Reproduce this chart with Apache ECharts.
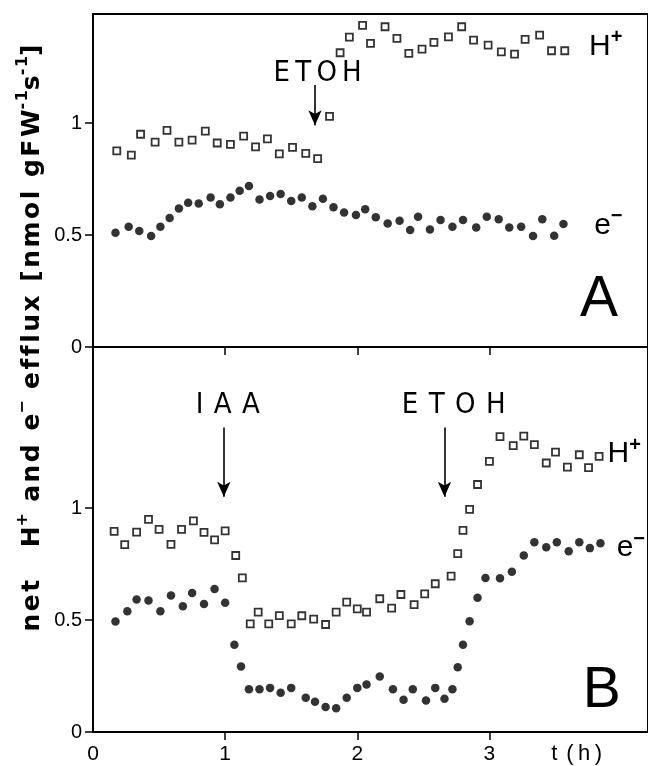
<!DOCTYPE html>
<html>
<head>
<meta charset="utf-8">
<script src="https://cdn.jsdelivr.net/npm/echarts@6/dist/echarts.min.js"></script>
<style>
  html, body { margin: 0; padding: 0; background: #fff; }
  #chart { width: 648px; height: 766px; }
</style>
</head>
<body>
<div id="chart"></div>
<script>
// Panel A: H+ and e- efflux, ethanol added at ~1.7 h
const aProtonT = [0.18,0.29,0.36,0.47,0.56,0.65,0.75,0.85,0.94,1.04,1.14,1.23,1.32,1.41,1.51,1.61,1.70,1.79,1.87,1.94,2.04,2.10,2.21,2.30,2.39,2.49,2.58,2.69,2.79,2.88,2.99,3.09,3.19,3.27,3.38,3.47,3.57];
const aProtonV = [0.876,0.857,0.95,0.915,0.967,0.915,0.924,0.964,0.911,0.905,0.942,0.894,0.929,0.862,0.891,0.865,0.841,1.03,1.314,1.384,1.436,1.356,1.43,1.378,1.311,1.33,1.36,1.385,1.43,1.37,1.348,1.318,1.308,1.374,1.393,1.323,1.323];
const aElectronT = [0.17,0.27,0.35,0.44,0.51,0.58,0.65,0.72,0.80,0.89,0.96,1.04,1.11,1.18,1.26,1.34,1.42,1.50,1.58,1.66,1.74,1.82,1.90,1.99,2.06,2.14,2.23,2.32,2.40,2.46,2.55,2.63,2.72,2.80,2.90,2.98,3.07,3.15,3.24,3.33,3.40,3.49,3.56];
const aElectronV = [0.51,0.537,0.518,0.496,0.537,0.576,0.619,0.644,0.641,0.668,0.638,0.668,0.698,0.719,0.659,0.674,0.683,0.652,0.668,0.629,0.662,0.624,0.601,0.589,0.615,0.579,0.552,0.564,0.522,0.582,0.525,0.567,0.537,0.567,0.534,0.582,0.570,0.534,0.537,0.496,0.570,0.497,0.549];

// Panel B: IAA added at 1 h, ethanol at ~2.65 h
const bProtonT = [0.16,0.24,0.33,0.42,0.50,0.59,0.67,0.76,0.84,0.92,1.0,1.08,1.13,1.19,1.25,1.33,1.41,1.50,1.58,1.67,1.76,1.84,1.92,2.00,2.07,2.17,2.26,2.33,2.43,2.51,2.59,2.71,2.76,2.80,2.85,2.91,3.00,3.08,3.18,3.26,3.34,3.43,3.50,3.59,3.68,3.75,3.83];
const bProtonV = [0.896,0.837,0.892,0.949,0.905,0.838,0.905,0.943,0.891,0.858,0.898,0.788,0.688,0.483,0.535,0.483,0.520,0.483,0.519,0.504,0.480,0.535,0.58,0.55,0.535,0.595,0.553,0.614,0.569,0.617,0.662,0.696,0.796,0.90,0.994,1.105,1.208,1.319,1.279,1.321,1.283,1.201,1.25,1.183,1.238,1.18,1.231];
const bElectronT = [0.17,0.26,0.33,0.42,0.51,0.59,0.68,0.75,0.84,0.92,1.0,1.07,1.12,1.18,1.26,1.34,1.42,1.50,1.61,1.68,1.76,1.84,1.92,2.00,2.07,2.17,2.27,2.35,2.42,2.52,2.59,2.66,2.72,2.76,2.80,2.85,2.91,2.97,3.08,3.17,3.26,3.34,3.43,3.51,3.60,3.68,3.76,3.84];
const bElectronV = [0.493,0.539,0.592,0.587,0.539,0.609,0.562,0.621,0.572,0.638,0.577,0.390,0.292,0.191,0.191,0.197,0.175,0.197,0.153,0.135,0.112,0.106,0.153,0.197,0.212,0.248,0.191,0.144,0.191,0.141,0.197,0.148,0.191,0.289,0.39,0.494,0.599,0.688,0.687,0.716,0.788,0.847,0.825,0.847,0.807,0.847,0.821,0.843];

const xTickLabels = [0, 1, 2, 3];
const yTickLabels = [0, 0.5, 1];

// treatment arrows: [time, upper value, lower value]
const arrowA = [[1.68, 1.17, 0.99]];
const arrowB = [[0.99, 1.36, 1.05], [2.66, 1.36, 1.05]];

const zip = (t, v) => t.map((x, i) => [x, v[i]]);

const FONT = '"Liberation Sans", Arial, sans-serif';
const NARROW = '"Liberation Sans Narrow", "DejaVu Sans Condensed", "Liberation Sans", sans-serif';
const TITLE_FONT = '"DejaVu Sans", sans-serif';

// spread letters apart with hair spaces
const spaced = s => s.split('').join('\u200A');

function xAxisFor(grid, labels) {
  return {
    type: 'value', gridIndex: grid, min: 0, max: 4.2, interval: 1,
    axisLine: { show: true, lineStyle: { color: '#000', width: 2 } },
    axisTick: { show: true, inside: false, length: 8, lineStyle: { color: '#000', width: 1.5 },
                customValues: [1, 2, 3] },
    axisLabel: { show: labels, customValues: xTickLabels, color: '#000', fontSize: 21,
                 fontFamily: FONT, margin: 12 },
    splitLine: { show: false }
  };
}
function yAxisFor(grid, max) {
  return {
    type: 'value', gridIndex: grid, min: 0, max: max, interval: 0.5,
    axisLine: { show: true, onZero: false, lineStyle: { color: '#000', width: 2 } },
    axisTick: { show: true, inside: false, length: 8, lineStyle: { color: '#000', width: 1.5 },
                customValues: yTickLabels },
    axisLabel: { show: true, customValues: yTickLabels, color: '#000', fontSize: 20,
                 fontFamily: FONT, margin: 11, formatter: v => String(v) },
    splitLine: { show: false }
  };
}
function arrowLines(list) {
  return {
    silent: true, symbol: ['none', 'arrow'], symbolSize: [10, 15],
    label: { show: false },
    lineStyle: { color: '#000', width: 1.6, type: 'solid' },
    data: list.map(a => [{ coord: [a[0], a[1]] }, { coord: [a[0], a[2]] }])
  };
}
const squareStyle = { color: '#fff', borderColor: '#000', borderWidth: 1.8 };
const dotStyle = { color: '#000' };

const chart = echarts.init(document.getElementById('chart'), null, { renderer: 'canvas' });
chart.setOption({
  animation: false,
  backgroundColor: '#fff',
  grid: [
    { left: 93, top: 14, width: 561, height: 333, show: true, borderColor: '#000', borderWidth: 2, z: 0 },
    { left: 93, top: 347, width: 561, height: 385, show: true, borderColor: '#000', borderWidth: 2, z: 0 }
  ],
  xAxis: [xAxisFor(0, false), xAxisFor(1, true)],
  yAxis: [yAxisFor(0, 1.487), yAxisFor(1, 1.719)],
  series: [
    { type: 'scatter', xAxisIndex: 0, yAxisIndex: 0, symbol: 'rect', symbolSize: 7,
      itemStyle: squareStyle, data: zip(aProtonT, aProtonV), markLine: arrowLines(arrowA) },
    { type: 'scatter', xAxisIndex: 0, yAxisIndex: 0, symbol: 'circle', symbolSize: 8.5,
      itemStyle: dotStyle, data: zip(aElectronT, aElectronV) },
    { type: 'scatter', xAxisIndex: 1, yAxisIndex: 1, symbol: 'rect', symbolSize: 7,
      itemStyle: squareStyle, data: zip(bProtonT, bProtonV), markLine: arrowLines(arrowB) },
    { type: 'scatter', xAxisIndex: 1, yAxisIndex: 1, symbol: 'circle', symbolSize: 8.5,
      itemStyle: dotStyle, data: zip(bElectronT, bElectronV) }
  ]
});

// text annotations anchored to data coordinates of each panel
function at(grid, t, v) { return chart.convertToPixel({ gridIndex: grid }, [t, v]); }
function label(grid, t, v, text, style) {
  const p = at(grid, t, v);
  return { type: 'text', x: p[0], y: p[1], silent: true,
           style: Object.assign({ text: text, fill: '#000', align: 'center', verticalAlign: 'middle',
                                  font: '30px ' + FONT }, style || {}) };
}
const ionRich = {
  b: { fontSize: 30, fontFamily: FONT, lineHeight: 34, verticalAlign: 'bottom' },
  s: { fontSize: 20, fontWeight: 'bold', fontFamily: FONT, lineHeight: 34, verticalAlign: 'top' }
};
function ion(grid, t, v, base, sup) {
  const p = at(grid, t, v);
  return { type: 'text', x: p[0], y: p[1], silent: true,
           style: { text: '{b|' + base + '}{s|' + sup + '}', rich: ionRich, fill: '#000',
                    align: 'center', verticalAlign: 'middle' } };
}
const axisX = at(1, 3.66, 0);

const titleParts = [
  ['m', 'net\u2002\u2002H'], ['s', '+'], ['m', ' and e'], ['s', '\u2212'],
  ['m', ' efflux [nmol gFW'], ['s', '-1'], ['m', 's'], ['s', '-1'], ['m', ']']
];
const titleText = titleParts.map(p => '{' + p[0] + '|' + spaced(p[1]) + '}').join('');

chart.setOption({
  graphic: [
    label(0, 1.70, 1.22, 'E\u2009T\u2009O\u2009H', { font: '29px ' + NARROW }),
    ion(0, 3.88, 1.35, 'H', '+'),
    ion(0, 3.90, 0.55, 'e', '\u2212'),
    label(0, 3.83, 0.21, 'A', { font: '57px ' + FONT }),
    label(1, 1.02, 1.46, 'I\u2009\u2009A\u2009\u2009A', { font: '29px ' + NARROW }),
    label(1, 2.73, 1.46, 'E\u2009\u2009T\u2009\u2009O\u2009\u2009H', { font: '29px ' + NARROW }),
    ion(1, 4.02, 1.25, 'H', '+'),
    ion(1, 4.07, 0.83, 'e', '\u2212'),
    label(1, 3.85, 0.18, 'B', { font: '57px ' + FONT }),
    { type: 'text', x: axisX[0], y: axisX[1] + 22, silent: true,
      style: { text: 't\u2009\u2009(\u2009h\u2009)', font: '22px ' + FONT, fill: '#000', align: 'center', verticalAlign: 'middle' } },
    { type: 'text', x: 30, y: 338, rotation: Math.PI / 2, silent: true,
      style: {
        text: titleText,
        align: 'center', verticalAlign: 'middle', fill: '#000',
        rich: {
          m: { fontSize: 25, fontWeight: 'bold', fontFamily: TITLE_FONT, lineHeight: 30, verticalAlign: 'bottom' },
          s: { fontSize: 16, fontWeight: 'bold', fontFamily: TITLE_FONT, lineHeight: 30, verticalAlign: 'top' }
        }
      } }
  ]
});
</script>
</body>
</html>
